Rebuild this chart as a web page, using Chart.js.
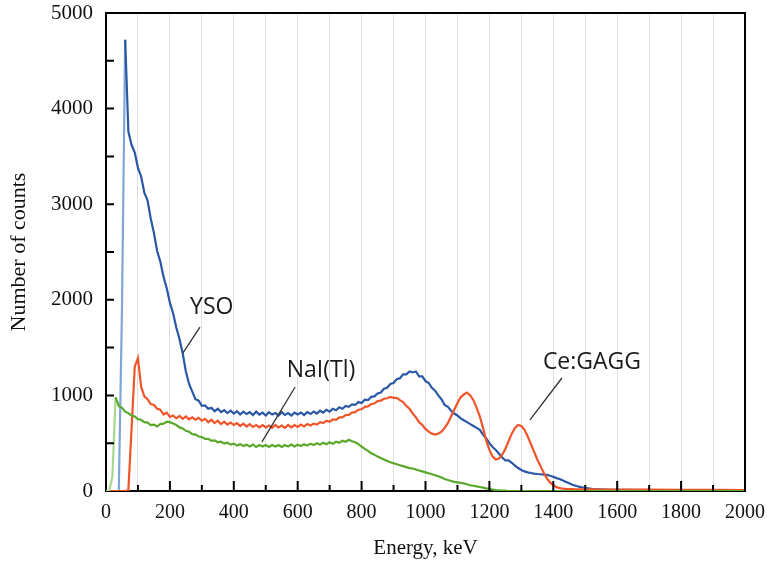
<!DOCTYPE html>
<html>
<head>
<meta charset="utf-8">
<script src="https://cdn.jsdelivr.net/npm/chart.js@4"></script>
<style>
  html, body { margin: 0; padding: 0; background: #fff; }
  #wrap { width: 767px; height: 565px; }
</style>
</head>
<body>
<div id="wrap"><canvas id="spectrum" width="767" height="565"></canvas></div>
<script>
// energy bins, keV
const energies = [
  0, 10, 20, 30, 40, 50, 60, 70, 80, 90,
  100, 110, 120, 130, 140, 150, 160, 170, 180, 190,
  200, 210, 220, 230, 240, 250, 260, 270, 280, 290,
  300, 310, 320, 330, 340, 350, 360, 370, 380, 390,
  400, 410, 420, 430, 440, 450, 460, 470, 480, 490,
  500, 510, 520, 530, 540, 550, 560, 570, 580, 590,
  600, 610, 620, 630, 640, 650, 660, 670, 680, 690,
  700, 710, 720, 730, 740, 750, 760, 770, 780, 790,
  800, 810, 820, 830, 840, 850, 860, 870, 880, 890,
  900, 910, 920, 930, 940, 950, 960, 970, 980, 990,
  1000, 1010, 1020, 1030, 1040, 1050, 1060, 1070, 1080, 1090,
  1100, 1110, 1120, 1130, 1140, 1150, 1160, 1170, 1180, 1190,
  1200, 1210, 1220, 1230, 1240, 1250, 1260, 1270, 1280, 1290,
  1300, 1310, 1320, 1330, 1340, 1350, 1360, 1370, 1380, 1390,
  1400, 1410, 1420, 1430, 1440, 1450, 1460, 1470, 1480, 1490,
  1500, 1510, 1520, 1530, 1540, 1550, 1560, 1570, 1580, 1590,
  1600, 1700, 1800, 1900, 2000
];

const ysoCounts = [
  0, 0, 0, 0, 0, 1900, 4720, 3760, 3620, 3540,
  3380, 3290, 3120, 3040, 2850, 2700, 2510, 2400, 2240, 2120,
  1970, 1860, 1710, 1590, 1440, 1250, 1120, 1040, 960, 945,
  890, 895, 860, 870, 835, 860, 825, 845, 815, 840,
  810, 835, 800, 830, 805, 825, 795, 830, 800, 820,
  790, 825, 800, 815, 790, 825, 795, 815, 790, 820,
  800, 820, 795, 825, 805, 830, 810, 840, 820, 850,
  830, 860, 845, 875, 860, 890, 880, 905, 900, 930,
  920, 955, 950, 985, 990, 1020, 1030, 1070, 1080, 1120,
  1130, 1170, 1180, 1220, 1220, 1250, 1240, 1250, 1200, 1200,
  1150, 1130, 1080, 1050, 1000, 960, 900, 880, 840, 810,
  790, 760, 740, 720, 700, 680, 660, 640, 590, 550,
  500, 460, 430, 390, 350, 320, 320, 295, 265, 240,
  220, 205, 195, 188, 182, 178, 175, 172, 168, 160,
  150, 135, 125, 110, 95, 80, 65, 55, 45, 38,
  32, 27, 23, 20, 18, 16, 15, 14, 13, 12,
  12, 10, 8, 8, 6
];

const gaggCounts = [
  0, 0, 0, 0, 0, 0, 0, 10, 650, 1300,
  1390, 1090, 990, 960, 910, 900, 860, 850, 800, 820,
  775, 790, 760, 785, 755, 780, 750, 770, 745, 765,
  735, 755, 720, 745, 710, 735, 700, 725, 695, 715,
  690, 710, 680, 705, 675, 700, 670, 690, 665, 690,
  665, 685, 660, 690, 665, 685, 660, 690, 665, 690,
  670, 695, 675, 700, 685, 705, 695, 720, 710, 735,
  725, 750, 745, 770, 770, 795, 795, 820, 825, 850,
  855, 880, 885, 910, 915, 940, 945, 965, 970, 985,
  975, 975, 950, 930, 890, 860, 810, 770, 720, 690,
  650, 620, 600, 590, 600, 620, 660, 710, 780, 850,
  920, 980, 1010, 1030, 1000, 950, 870, 780, 660, 530,
  430, 360, 330, 340, 380, 440, 520, 600, 660, 690,
  680, 640, 570, 490, 410, 330, 260, 190, 130, 90,
  60, 40, 30, 25, 22, 20, 19, 18, 18, 17,
  17, 16, 16, 16, 15, 15, 15, 15, 15, 15,
  15, 14, 13, 12, 10
];

const naiCounts = [
  0, 0, 150, 980, 890, 870, 830, 815, 790, 780,
  750, 745, 720, 715, 690, 695, 675, 700, 705, 725,
  720, 705, 690, 665, 655, 630, 620, 595, 590, 570,
  565, 545, 545, 525, 530, 510, 515, 495, 505, 485,
  495, 475, 490, 470, 485, 465, 485, 460, 480, 465,
  480, 460, 480, 465, 480, 460, 480, 465, 485, 465,
  485, 470, 490, 475, 495, 480, 500, 485, 505, 490,
  510, 495, 515, 505, 525, 515, 535, 520, 510, 490,
  465, 440, 420, 395, 380, 360, 345, 330, 315, 300,
  290, 280, 270, 260, 250, 240, 235, 225, 215, 205,
  195, 185, 175, 165, 155, 140, 125, 115, 105, 95,
  90, 85, 80, 70, 60, 55, 48, 42, 35, 28,
  22, 16, 10, 8, 5, 3, 0, 0, 0, 0,
  0, 0, 0, 0, 0, 0, 0, 0, 0, 0,
  0, 0, 0, 0, 0, 0, 0, 0, 0, 0,
  0, 0, 0, 0, 0, 0, 0, 0, 0, 0,
  0, 0, 0, 0, 0
];

// curve labels and their leader lines, in data units (keV, counts)
const labelNames = ["YSO", "NaI(Tl)", "Ce:GAGG"];
const labelAt = [[331, 1925], [673, 1260], [1521, 1344]];
const leaderFrom = [[294, 1715], [592, 1088], [1427, 1182]];
const leaderTo = [[241, 1444], [488, 513], [1327, 743]];

const toPoints = vals => energies.map((e, i) => ({ x: e, y: vals[i] }));

// inward ticks, top/right frame and curve labels
const framePlugin = {
  id: "frame",
  afterDraw(chart) {
    const { ctx, chartArea: a, scales: { x, y } } = chart;
    ctx.save();
    ctx.strokeStyle = "#000";
    ctx.lineWidth = 2;
    ctx.beginPath();
    ctx.moveTo(a.left, a.top);
    ctx.lineTo(a.right, a.top);
    ctx.lineTo(a.right, a.bottom);
    ctx.stroke();

    ctx.beginPath();
    for (let v = 100; v < 2000; v += 100) {
      const px = x.getPixelForValue(v);
      const len = v % 200 === 0 ? 10 : 6;
      ctx.moveTo(px, a.bottom);
      ctx.lineTo(px, a.bottom - len);
    }
    for (let v = 500; v < 5000; v += 500) {
      const py = y.getPixelForValue(v);
      ctx.moveTo(a.left, py);
      ctx.lineTo(a.left + 8, py);
    }
    ctx.stroke();

    ctx.strokeStyle = "#333";
    ctx.lineWidth = 1.3;
    ctx.fillStyle = "#1a1a1a";
    ctx.font = "23px 'Open Sans'";
    ctx.textAlign = "center";
    ctx.textBaseline = "middle";
    labelNames.forEach((name, i) => {
      ctx.beginPath();
      ctx.moveTo(x.getPixelForValue(leaderFrom[i][0]), y.getPixelForValue(leaderFrom[i][1]));
      ctx.lineTo(x.getPixelForValue(leaderTo[i][0]), y.getPixelForValue(leaderTo[i][1]));
      ctx.stroke();
      ctx.fillText(name, x.getPixelForValue(labelAt[i][0]), y.getPixelForValue(labelAt[i][1]));
    });
    ctx.restore();
  }
};

const ctx = document.getElementById("spectrum").getContext("2d");

new Chart(ctx, {
  type: "line",
  data: {
    datasets: [
      {
        label: "NaI(Tl)",
        data: toPoints(naiCounts),
        borderColor: "#5aa82a",
        borderWidth: 2.2,
        segment: { borderColor: s => s.p0.parsed.x < 30 ? "#a8d890" : undefined }
      },
      {
        label: "Ce:GAGG",
        data: toPoints(gaggCounts),
        borderColor: "#f0552a",
        borderWidth: 2.2
      },
      {
        label: "YSO",
        data: toPoints(ysoCounts),
        borderColor: "#2a58a6",
        borderWidth: 2.2,
        segment: { borderColor: s => s.p0.parsed.x < 60 ? "#7fa6d8" : undefined }
      }
    ]
  },
  options: {
    responsive: false,
    animation: false,
    layout: { padding: { left: 0, right: 22, top: 13, bottom: 0 } },
    elements: { point: { radius: 0 }, line: { tension: 0 } },
    plugins: { legend: { display: false }, tooltip: { enabled: false } },
    scales: {
      x: {
        type: "linear",
        min: 0,
        max: 2000,
        afterFit: s => { s.height = 74; s.paddingLeft = 0; s.paddingRight = 0; },
        border: { color: "#000", width: 2 },
        grid: {
          drawTicks: false,
          color: c => (c.tick.value === 0 || c.tick.value === 2000) ? "rgba(0,0,0,0)" : "#e0e0e0",
          lineWidth: 1
        },
        ticks: {
          stepSize: 100,
          autoSkip: false,
          maxRotation: 0,
          padding: 10,
          color: "#111",
          font: { family: "'Liberation Serif'", size: 20 },
          callback: v => (v % 200 === 0 ? String(v) : "")
        },
        title: {
          display: true,
          text: "Energy, keV",
          color: "#111",
          font: { family: "'Liberation Serif'", size: 21 },
          padding: { top: 0, bottom: 4 }
        }
      },
      y: {
        min: 0,
        max: 5000,
        afterFit: s => { s.width = 106; s.paddingTop = 0; s.paddingBottom = 0; },
        border: { color: "#000", width: 2 },
        grid: { display: false, drawTicks: false },
        ticks: {
          stepSize: 1000,
          padding: 13,
          color: "#111",
          font: { family: "'Liberation Serif'", size: 21 },
          callback: v => String(v)
        },
        title: {
          display: true,
          text: "Number of counts",
          color: "#111",
          font: { family: "'Liberation Serif'", size: 22 },
          padding: { top: 6, bottom: 0 }
        }
      }
    }
  },
  plugins: [framePlugin]
});
</script>
</body>
</html>
